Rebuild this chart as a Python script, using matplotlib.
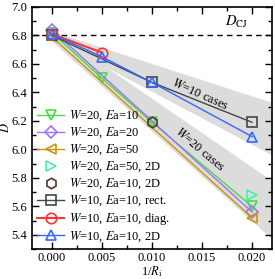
import matplotlib

matplotlib.use("Agg")
import matplotlib.pyplot as plt
from matplotlib.ticker import MultipleLocator

plt.rcParams["font.family"] = ["Liberation Serif", "DejaVu Serif"]
plt.rcParams["mathtext.fontset"] = "stix"
plt.rcParams["font.size"] = 9

# ---- data ----
w20_ea10_x = [0.0, 0.005, 0.01, 0.02]
w20_ea10_y = [6.82, 6.50, 6.19, 5.60]
w20_ea20_x = [0.0, 0.02]
w20_ea20_y = [6.84, 5.56]
w20_ea50_x = [0.0, 0.02]
w20_ea50_y = [6.79, 5.52]
w20_ea50_2d_x = [0.02]
w20_ea50_2d_y = [5.68]
w20_ea10_2d_x = [0.01]
w20_ea10_2d_y = [6.19]
w10_rect_x = [0.0, 0.01, 0.02]
w10_rect_y = [6.80, 6.47, 6.19]
w10_diag_x = [0.0, 0.005]
w10_diag_y = [6.81, 6.68]
w10_2d_x = [0.0, 0.005, 0.01, 0.02]
w10_2d_y = [6.81, 6.65, 6.47, 6.09]

d_cj = 6.8

# shaded bands (x, upper, lower)
band_x = [0.0, 0.022]
band_w10_hi = [6.83, 6.33]
band_w10_lo = [6.78, 5.96]
band_w20_hi = [6.84, 5.78]
band_w20_lo = [6.76, 5.37]

series = [
    (w20_ea10_x, w20_ea10_y, r"$W$=20, $E$a=10", "#44dd44", "v", "-"),
    (w20_ea20_x, w20_ea20_y, r"$W$=20, $E$a=20", "#a070ff", "D", "-"),
    (w20_ea50_x, w20_ea50_y, r"$W$=20, $E$a=50", "#c8960a", "<", "-"),
    (w20_ea50_2d_x, w20_ea50_2d_y, r"$W$=20, $E$a=50, 2D", "#44f0a8", ">", "none"),
    (w20_ea10_2d_x, w20_ea10_2d_y, r"$W$=20, $E$a=10, 2D", "#5a3030", "h", "none"),
    (w10_rect_x, w10_rect_y, r"$W$=10, $E$a=10, rect.", "#404848", "s", "-"),
    (w10_diag_x, w10_diag_y, r"$W$=10, $E$a=10, diag.", "#ff3333", "o", "-"),
    (w10_2d_x, w10_2d_y, r"$W$=10, $E$a=10, 2D", "#3366ff", "^", "-"),
]

fig = plt.figure(figsize=(2.75, 2.79), dpi=100)
ax = fig.add_axes([0.116, 0.1075, 0.873, 0.8675])

ax.fill_between(band_x, band_w10_lo, band_w10_hi, color="#dcdcdc", lw=0, zorder=0)
ax.fill_between(band_x, band_w20_lo, band_w20_hi, color="#dcdcdc", lw=0, zorder=0)
ax.axhline(d_cj, color="black", ls=(0, (4, 3)), lw=1.0, zorder=1)

for x, y, label, color, marker, ls in series:
    ms = 6.5 if marker == "D" else 7.5
    lw = 1.5 if marker == "o" else 1.0
    ax.plot(x, y, ls=ls, color=color, lw=lw, marker=marker, ms=ms,
            mfc="none", mec=color, mew=1.2, label=label, zorder=3)

ax.text(0.0173, 6.87, r"$D_{\rm CJ}$", fontsize=10.5)
ax.text(0.0148, 6.385, r"$W$=10 cases", rotation=-24, ha="center", va="center")
ax.text(0.0148, 6.0, r"$W$=20 cases", rotation=-40, ha="center", va="center")

ax.set_xlim(-0.002, 0.022)
ax.set_ylim(5.3, 7.0)
ax.xaxis.set_major_locator(MultipleLocator(0.005))
ax.xaxis.set_minor_locator(MultipleLocator(0.0025))
ax.yaxis.set_major_locator(MultipleLocator(0.2))
ax.yaxis.set_minor_locator(MultipleLocator(0.1))
ax.xaxis.set_major_formatter(matplotlib.ticker.FormatStrFormatter("%.3f"))
ax.tick_params(which="both", direction="in", top=True, right=True, width=1.0)
ax.tick_params(which="major", length=5)
ax.tick_params(which="minor", length=3)
ax.tick_params(axis="x", pad=2.5)
for s in ax.spines.values():
    s.set_linewidth(1.2)

ax.set_xlabel(r"1/$R_{\rm i}$", labelpad=0)
ax.set_ylabel(r"$D$", labelpad=-0.5)

ax.legend(loc="lower left", frameon=False, handlelength=2.2, labelspacing=0.2,
          borderaxespad=0.1, handletextpad=0.4, borderpad=0.3)

fig.savefig("out.png", dpi=100)
